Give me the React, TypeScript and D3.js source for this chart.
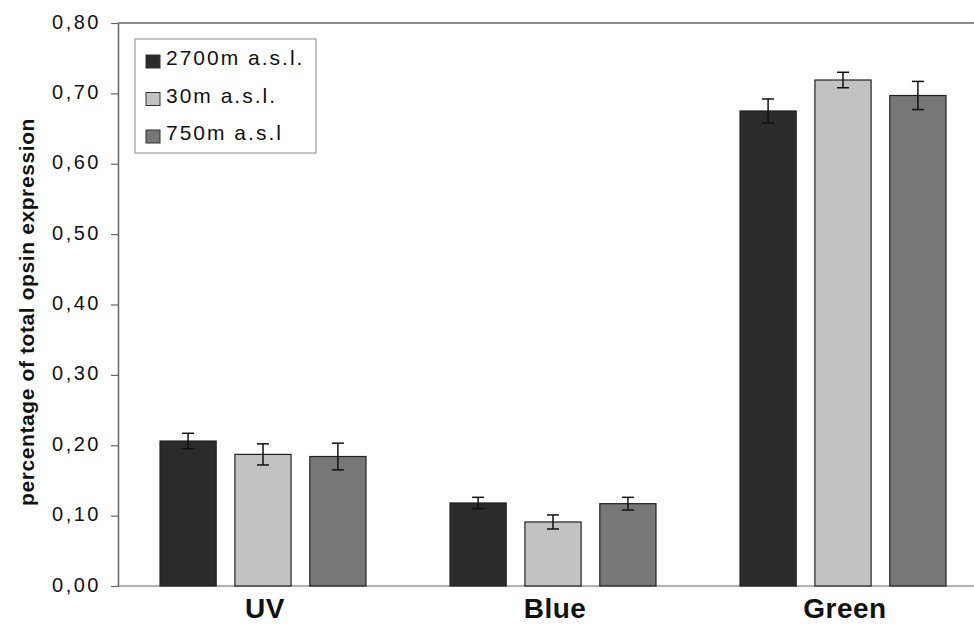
import { useRef, useEffect } from 'react';
import * as d3 from 'd3';

// opsin classes and altitude series
const categories = ['UV', 'Blue', 'Green'];
const seriesNames = ['2700m a.s.l.', '30m a.s.l.', '750m a.s.l'];
const seriesColors = ['#2b2b2b', '#c2c2c2', '#777777'];
const values2700 = [0.206, 0.118, 0.675];
const values30 = [0.187, 0.091, 0.719];
const values750 = [0.184, 0.117, 0.697];
const err2700 = [0.011, 0.008, 0.017];
const err30 = [0.015, 0.010, 0.011];
const err750 = [0.019, 0.009, 0.020];
const yTicks = [0, 0.1, 0.2, 0.3, 0.4, 0.5, 0.6, 0.7, 0.8];

const App = () => {
  const svgRef = useRef<SVGSVGElement>(null);

  useEffect(() => {
    const svg = d3.select(svgRef.current);
    svg.selectAll('*').remove();

    const left = 118, top = 23, bottom = 586, right = 988;
    const font = 'Arial, "Liberation Sans", sans-serif';

    const x = d3.scaleBand().domain(categories).range([left, right]);
    const inner = d3.scaleBand().domain(seriesNames).range([42, 248]).paddingInner(0.25);
    const y = d3.scaleLinear().domain([0, 0.8]).range([bottom, top]);

    const vals = [values2700, values30, values750];
    const errs = [err2700, err30, err750];

    // frame (top + left)
    svg.append('line').attr('x1', left).attr('x2', 974).attr('y1', top).attr('y2', top)
      .attr('stroke', '#666').attr('stroke-width', 1.5);

    const yAxis = svg.append('g').attr('transform', `translate(${left},0)`)
      .call(d3.axisLeft(y).tickValues(yTicks).tickSize(7).tickSizeOuter(0)
        .tickFormat(d => d3.format('.2f')(+d).replace('.', ',')));
    yAxis.select('.domain').attr('stroke', '#666').attr('stroke-width', 1.5);
    yAxis.selectAll('.tick line').attr('stroke', '#666').attr('stroke-width', 1.2);
    yAxis.selectAll('.tick text').attr('font-family', font).attr('font-size', 20)
      .attr('letter-spacing', 2.5).attr('fill', '#111').attr('x', -17).attr('dy', '0.25em');

    // bottom baseline
    svg.append('line').attr('x1', left).attr('x2', 974).attr('y1', bottom).attr('y2', bottom)
      .attr('stroke', '#666').attr('stroke-width', 1.2);

    seriesNames.forEach((s, si) => {
      categories.forEach((c, ci) => {
        const bx = (x(c) ?? 0) + (inner(s) ?? 0);
        const bw = inner.bandwidth();
        const v = vals[si][ci];
        const e = errs[si][ci];
        svg.append('rect')
          .attr('x', bx).attr('y', y(v)).attr('width', bw).attr('height', bottom - y(v))
          .attr('fill', seriesColors[si]).attr('stroke', '#222').attr('stroke-width', 1.2);
        const cx = bx + bw / 2;
        svg.append('line').attr('x1', cx).attr('x2', cx).attr('y1', y(v + e)).attr('y2', y(v - e))
          .attr('stroke', '#111').attr('stroke-width', 1.5);
        [v + e, v - e].forEach(t => {
          svg.append('line').attr('x1', cx - 6).attr('x2', cx + 6).attr('y1', y(t)).attr('y2', y(t))
            .attr('stroke', '#111').attr('stroke-width', 1.5);
        });
      });
    });

    // category labels
    categories.forEach(c => {
      svg.append('text').attr('x', (x(c) ?? 0) + x.bandwidth() / 2 + 2).attr('y', 618)
        .attr('text-anchor', 'middle').attr('font-family', font).attr('font-size', 28)
        .attr('letter-spacing', 0.5).attr('font-weight', 'bold').attr('fill', '#111').text(c);
    });

    // y title
    svg.append('text').attr('transform', `translate(34,312) rotate(-90)`)
      .attr('text-anchor', 'middle').attr('font-family', font).attr('font-size', 21)
      .attr('letter-spacing', 0.6).attr('font-weight', 'bold').attr('fill', '#111')
      .text('percentage of total opsin expression');

    // legend
    const lg = svg.append('g');
    lg.append('rect').attr('x', 135).attr('y', 39).attr('width', 181).attr('height', 114)
      .attr('fill', 'white').attr('stroke', '#888').attr('stroke-width', 1);
    seriesNames.forEach((s, i) => {
      const base = 65 + i * 37.5;
      lg.append('rect').attr('x', 146).attr('y', base - 10).attr('width', 14).attr('height', 13)
        .attr('fill', seriesColors[i]).attr('stroke', '#333').attr('stroke-width', 1);
      lg.append('text').attr('x', 166).attr('y', base).attr('font-family', font)
        .attr('font-size', 21).attr('letter-spacing', 2).attr('fill', '#111').text(s);
    });
  }, []);

  return (
    <svg ref={svgRef} width={974} height={624}
      style={{ position: 'absolute', left: 0, top: 0, background: 'white' }} />
  );
};

export default App;
